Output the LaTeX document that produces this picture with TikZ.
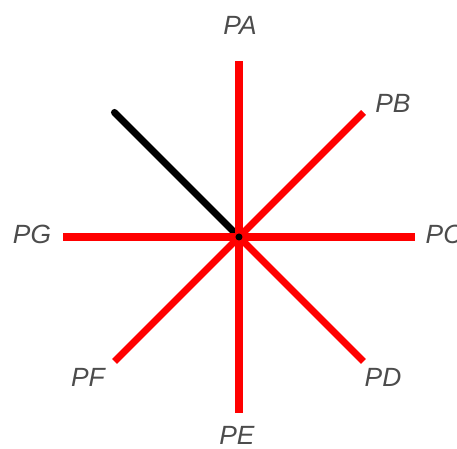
\documentclass[tikz,border=0pt]{standalone}
\usepackage{fontspec}
\setsansfont{Liberation Sans}
\usepackage{xcolor}
\usepackage{tikz}

\begin{document}
\begin{tikzpicture}[font=\fontsize{15}{18}\selectfont\sffamily\itshape,
  spoke/.style={red, line width=4pt},
  hand/.style={black, line width=4pt, line cap=round},
  plabel/.style={black!70, inner sep=0pt}]
  \useasboundingbox (-4.78,-4.24) rectangle (4.36,4.74);
  \coordinate (o) at (0,0);
  \coordinate (a) at (0,3.52);
  \coordinate (b) at (2.49,2.49);
  \coordinate (c) at (3.52,0);
  \coordinate (d) at (2.49,-2.49);
  \coordinate (e) at (0,-3.52);
  \coordinate (f) at (-2.49,-2.49);
  \coordinate (g) at (-3.52,0);
  \coordinate (h) at (-2.49,2.49);
  \draw[hand] (o) -- (h);
  \draw[spoke] (o) -- (a);
  \draw[spoke] (o) -- (b);
  \draw[spoke] (o) -- (c);
  \draw[spoke] (o) -- (d);
  \draw[spoke] (o) -- (e);
  \draw[spoke] (o) -- (f);
  \draw[spoke] (o) -- (g);
  \fill[black] (o) circle (0.07);
  \node[plabel] (pa) at (0.02,4.24) {PA};
  \node[plabel] (pb) at (3.08,2.68) {PB};
  \node[plabel] (pc) at (4.1,0.06) {PC};
  \node[plabel] (pd) at (2.88,-2.8) {PD};
  \node[plabel] (pe) at (-0.04,-3.96) {PE};
  \node[plabel] (pf) at (-3.02,-2.8) {PF};
  \node[plabel] (pg) at (-4.14,0.06) {PG};
\end{tikzpicture}
\end{document}
